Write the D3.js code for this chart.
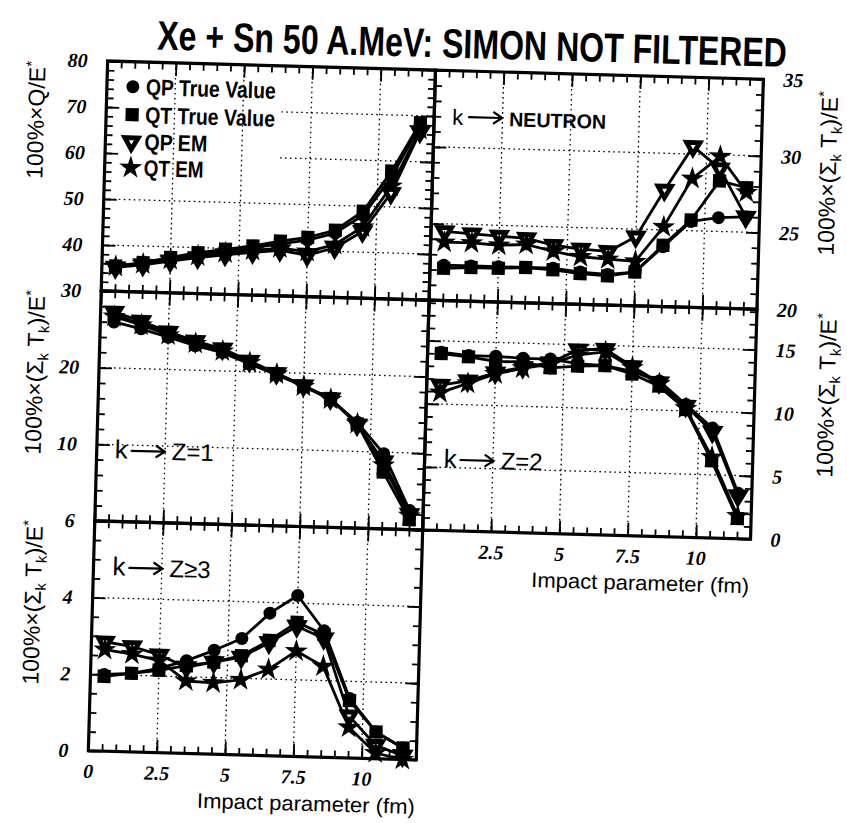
<!DOCTYPE html>
<html>
<head>
<meta charset="utf-8">
<script src="https://cdn.jsdelivr.net/npm/d3@7"></script>
<style>
  html, body { margin: 0; padding: 0; background: #fff; }
  svg { display: block; }
</style>
</head>
<body>
<svg id="fig" width="847" height="823"></svg>
<script>
// ---- data ---------------------------------------------------------------
// impact parameter bins (fm)
const impactB = [0.5, 1.5, 2.5, 3.5, 4.5, 5.5, 6.5, 7.5, 8.5, 9.5, 10.5, 11.5];
const seriesNames = ["QP True Value", "QT True Value", "QP EM", "QT EM"];

// 100% x Q / E*
const qQpTrue = [35.4, 36.2, 37.4, 38.5, 39.5, 40.3, 41.3, 42.3, 44.0, 48.0, 56.5, 68.0];
const qQtTrue = [35.5, 36.4, 37.7, 38.9, 39.8, 40.7, 41.9, 42.9, 44.6, 48.9, 57.8, 68.5];
const qQpEm   = [35.2, 35.9, 36.9, 37.8, 38.6, 39.3, 39.9, 39.0, 40.8, 44.5, 53.0, 66.5];
const qQtEm   = [35.4, 36.1, 37.2, 38.2, 39.0, 39.7, 40.4, 39.8, 41.5, 45.5, 54.5, 67.0];

// k -> neutron
const nQpTrue = [22.3, 22.3, 22.3, 22.3, 22.3, 22.1, 22.0, 22.2, 23.9, 25.6, 25.9, 26.0];
const nQtTrue = [22.1, 22.2, 22.2, 22.3, 22.2, 22.0, 21.9, 22.2, 24.0, 25.7, 28.3, 27.9];
const nQpEm   = [24.5, 24.4, 24.3, 24.2, 23.8, 23.6, 23.5, 24.5, 27.6, 30.5, 29.1, 26.0];
const nQtEm   = [23.8, 23.8, 23.7, 23.8, 23.4, 23.1, 23.0, 22.9, 25.2, 28.4, 29.9, 27.6];

// k -> Z=1
const z1QpTrue = [26.0, 25.2, 24.2, 23.2, 22.4, 21.0, 19.7, 18.3, 16.7, 13.8, 9.8, 2.5];
const z1QtTrue = [27.0, 25.8, 24.8, 23.6, 22.8, 21.3, 19.8, 18.3, 16.8, 13.6, 7.4, 1.3];
const z1QpEm   = [27.3, 26.2, 24.9, 23.8, 22.9, 21.4, 19.9, 18.4, 16.8, 13.5, 8.8, 2.0];
const z1QtEm   = [26.7, 25.7, 24.5, 23.5, 22.6, 21.2, 19.8, 18.3, 16.7, 13.6, 8.3, 1.8];

// k -> Z=2
const z2QpTrue = [14.1, 13.9, 13.9, 13.8, 13.8, 13.5, 13.4, 13.0, 12.3, 10.5, 8.7, 3.6];
const z2QtTrue = [14.0, 13.8, 13.5, 13.5, 13.1, 13.3, 13.4, 12.8, 11.9, 10.1, 6.1, 1.6];
const z2QpEm   = [11.5, 11.9, 12.6, 13.1, 13.5, 14.6, 14.7, 13.4, 12.2, 10.4, 8.4, 3.4];
const z2QtEm   = [10.9, 11.7, 12.5, 13.0, 13.4, 14.2, 14.5, 13.3, 12.1, 10.2, 6.4, 1.8];

// k -> Z>=3
const z3QpTrue = [2.0, 2.05, 2.2, 2.42, 2.71, 3.04, 3.72, 4.2, 3.3, 1.55, 0.7, 0.3];
const z3QtTrue = [1.95, 2.05, 2.15, 2.29, 2.4, 2.59, 3.01, 3.5, 3.2, 1.5, 0.7, 0.3];
const z3QpEm   = [2.85, 2.75, 2.55, 2.25, 2.4, 2.55, 2.95, 3.4, 3.1, 1.1, 0.35, 0.1];
const z3QtEm   = [2.65, 2.55, 2.4, 1.89, 1.86, 1.96, 2.25, 2.75, 2.37, 0.8, 0.15, 0.0];

// tick labels
const xTickLabels = [0, 2.5, 5, 7.5, 10];
const yLabelsQ  = [30, 40, 50, 60, 70, 80];
const yLabelsN  = [20, 25, 30, 35];
const yLabelsZ1 = [10, 20];
const yLabelsZ2 = [0, 5, 10, 15];
const yLabelsZ3 = [0, 2, 4, 6];

// ---- layout -------------------------------------------------------------
const colX = [98, 426];
const rowY = [70, 300, 530];
const PW = 328, PH = 230;

const SANS = "'Liberation Sans', Arial, Helvetica, sans-serif";
const SERIF = "'Liberation Serif', 'Times New Roman', serif";

const svg = d3.select("#fig");
svg.append("rect").attr("width", 847).attr("height", 823).attr("fill", "#fff");
const root = svg.append("g").attr("transform", "rotate(1.6,425,410)");

// condensed text: squeeze horizontally so that the text spans `width` pixels
function condensedText(parent, x, y, width, anchor) {
  const g = parent.append("g");
  const t = g.append("text").attr("x", 0).attr("y", 0);
  return {
    text: t,
    fit() {
      const natural = t.node().getComputedTextLength();
      const s = Math.min(1.2, width / natural);
      const dx = anchor === "end" ? -width : 0;
      g.attr("transform", `translate(${x + dx},${y}) scale(${s},1)`);
    }
  };
}

// title
{
  const c = condensedText(root, 147, 57, 630);
  c.text.attr("font-family", SANS).attr("font-weight", "bold").attr("font-size", 41)
    .text("Xe + Sn 50 A.MeV: SIMON NOT FILTERED");
  c.fit();
}

// marker shapes per series
const markerKinds = ["circle", "square", "triangle", "star"];
function drawMarker(sel, kind) {
  if (kind === "circle") {
    sel.append("circle").attr("r", 6.5).attr("fill", "#000");
  } else if (kind === "square") {
    sel.append("rect").attr("x", -6.6).attr("y", -6.6).attr("width", 13.2).attr("height", 13.2).attr("fill", "#000");
  } else if (kind === "triangle") {
    sel.append("path").attr("d", d3.symbol(d3.symbolTriangle, 78)())
      .attr("transform", "rotate(180)")
      .attr("fill", "#fff").attr("stroke", "#000").attr("stroke-width", 4.8).attr("stroke-linejoin", "miter");
  } else {
    sel.append("path").attr("d", d3.symbol(d3.symbolStar, 165)()).attr("fill", "#000");
  }
}

const xMinor = d3.range(0, 12.01, 0.5);
const xMajor = [0, 2.5, 5, 7.5, 10];
const xGrid = [2.5, 5, 7.5, 10];

const panels = [
  { col: 0, row: 0, domain: [30, 80], major: d3.range(30, 80.1, 10), minor: d3.range(30, 80.1, 2),
    grid: [40, 50, 60, 70], labels: yLabelsQ, side: "left", xLabels: null,
    values: [qQpTrue, qQtTrue, qQpEm, qQtEm], legend: true },
  { col: 1, row: 0, domain: [20, 35], major: d3.range(20, 35.1, 5), minor: d3.range(20, 35.1, 1),
    grid: [25, 30], labels: yLabelsN, side: "right", xLabels: null,
    values: [nQpTrue, nQtTrue, nQpEm, nQtEm] },
  { col: 0, row: 1, domain: [0, 30], major: d3.range(0, 30.1, 10), minor: d3.range(0, 30.1, 2),
    grid: [10, 20], labels: yLabelsZ1, side: "left", xLabels: null,
    values: [z1QpTrue, z1QtTrue, z1QpEm, z1QtEm] },
  { col: 1, row: 1, domain: [0, 18.2], major: d3.range(0, 18.1, 5), minor: d3.range(0, 18.1, 1),
    grid: [5, 10, 15], labels: yLabelsZ2, side: "right", xLabels: xTickLabels.slice(1),
    values: [z2QpTrue, z2QtTrue, z2QpEm, z2QtEm] },
  { col: 0, row: 2, domain: [0, 6], major: d3.range(0, 6.01, 2), minor: d3.range(0, 6.01, 0.5),
    grid: [2, 4], labels: yLabelsZ3, side: "left", xLabels: xTickLabels,
    values: [z3QpTrue, z3QtTrue, z3QpEm, z3QtEm] }
];

function inwardTicks(g, axisFn, scale, values, len, tx, ty) {
  const a = g.append("g").attr("transform", `translate(${tx},${ty})`)
    .call(axisFn(scale).tickValues(values).tickSize(-len).tickFormat(""));
  a.select(".domain").remove();
  a.selectAll("line").attr("stroke", "#000").attr("stroke-width", 1.8);
}

panels.forEach(p => {
  const x0 = colX[p.col], y0 = rowY[p.row];
  const xs = d3.scaleLinear().domain([0, 12]).range([x0, x0 + PW]);
  const ys = d3.scaleLinear().domain(p.domain).range([y0 + PH, y0]);
  const g = root.append("g");

  // horizontal grid
  g.selectAll(null).data(p.grid).join("line")
    .attr("x1", x0).attr("x2", x0 + PW)
    .attr("y1", d => ys(d)).attr("y2", d => ys(d))
    .attr("stroke", "#000").attr("stroke-width", 1.3).attr("stroke-dasharray", "1.6,3.4");

  if (p.legend) {
    g.append("rect").attr("x", x0 + 3).attr("y", y0 + 3).attr("width", 172).attr("height", 112).attr("fill", "#fff");
  }

  // vertical grid
  g.selectAll(null).data(xGrid).join("line")
    .attr("x1", d => xs(d)).attr("x2", d => xs(d))
    .attr("y1", y0).attr("y2", y0 + PH)
    .attr("stroke", "#000").attr("stroke-width", 1.3).attr("stroke-dasharray", "1.6,3.4");

  // ticks on all four sides, pointing inward
  inwardTicks(g, d3.axisBottom, xs, xMinor, 7, 0, y0 + PH);
  inwardTicks(g, d3.axisBottom, xs, xMajor, 13, 0, y0 + PH);
  inwardTicks(g, d3.axisTop, xs, xMinor, 7, 0, y0);
  inwardTicks(g, d3.axisTop, xs, xMajor, 13, 0, y0);
  inwardTicks(g, d3.axisLeft, ys, p.minor, 7, x0, 0);
  inwardTicks(g, d3.axisLeft, ys, p.major, 13, x0, 0);
  inwardTicks(g, d3.axisRight, ys, p.minor, 7, x0 + PW, 0);
  inwardTicks(g, d3.axisRight, ys, p.major, 13, x0 + PW, 0);

  // frame
  g.append("rect").attr("x", x0).attr("y", y0).attr("width", PW).attr("height", PH)
    .attr("fill", "none").attr("stroke", "#000").attr("stroke-width", 3.2);

  // y tick labels
  const yAx = (p.side === "left" ? d3.axisLeft(ys) : d3.axisRight(ys))
    .tickValues(p.labels).tickSize(0).tickPadding(20).tickFormat(d => d);
  const ya = g.append("g").attr("transform", `translate(${p.side === "left" ? x0 : x0 + PW},0)`).call(yAx);
  ya.select(".domain").remove();
  ya.selectAll("text").attr("font-family", SERIF).attr("font-weight", "bold")
    .attr("font-style", "italic").attr("font-size", 20).attr("fill", "#000");

  // x tick labels
  if (p.xLabels) {
    const xa = g.append("g").attr("transform", `translate(0,${y0 + PH})`)
      .call(d3.axisBottom(xs).tickValues(p.xLabels).tickSize(0).tickPadding(13).tickFormat(d => d));
    xa.select(".domain").remove();
    xa.selectAll("text").attr("font-family", SERIF).attr("font-weight", "bold")
      .attr("font-style", "italic").attr("font-size", 20).attr("fill", "#000");
    const c = condensedText(g, x0 + PW, y0 + PH + 54, 218, "end");
    c.text.attr("font-family", SANS).attr("font-size", 21).text("Impact parameter (fm)");
    c.fit();
  }

  // series: lines first, then markers
  const line = d3.line().x(d => xs(d[0])).y(d => ys(d[1]));
  const order = [2, 3, 0, 1];
  order.forEach(i => {
    const pts = impactB.map((b, j) => [b, p.values[i][j]]);
    g.append("path").attr("d", line(pts)).attr("fill", "none")
      .attr("stroke", "#000").attr("stroke-width", 2.8).attr("stroke-linejoin", "round");
  });
  order.forEach(i => {
    const pts = impactB.map((b, j) => [b, p.values[i][j]]);
    g.selectAll(null).data(pts).join("g")
      .attr("transform", d => `translate(${xs(d[0])},${ys(d[1])})`)
      .each(function () { drawMarker(d3.select(this), markerKinds[i]); });
  });

  // legend
  if (p.legend) {
    const rows = [95, 123, 150, 176];
    const widths = [130, 130, 63, 60];
    seriesNames.forEach((name, i) => {
      const lg = root.append("g").attr("transform", `translate(${x0 + 26},${rows[i]})`);
      drawMarker(lg, markerKinds[i]);
      const c = condensedText(lg, 13, 8, widths[i]);
      c.text.attr("font-family", SANS).attr("font-weight", "bold").attr("font-size", 23).text(name);
      c.fit();
    });
  }
});

// ---- y-axis titles --------------------------------------------------------
function sumTitle(x, yTop) {
  const t = root.append("text")
    .attr("transform", `translate(${x},${yTop}) rotate(-90)`)
    .attr("text-anchor", "end").attr("font-family", SANS).attr("font-size", 23);
  t.append("tspan").text("100%×(Σ");
  t.append("tspan").attr("dy", 5).attr("font-size", 15).text("k");
  t.append("tspan").attr("dy", -5).text(" T");
  t.append("tspan").attr("dy", 5).attr("font-size", 15).text("k");
  t.append("tspan").attr("dy", -5).text(")/E");
  t.append("tspan").attr("dy", -9).attr("font-size", 15).text("*");
  return t;
}
{
  const t = root.append("text")
    .attr("transform", `translate(36,72) rotate(-90)`)
    .attr("text-anchor", "end").attr("font-family", SANS).attr("font-size", 23);
  t.append("tspan").text("100%×Q/E");
  t.append("tspan").attr("dy", -9).attr("font-size", 15).text("*");
}
sumTitle(42, 301);
sumTitle(46, 531);
sumTitle(829, 80);
sumTitle(834, 302);

// ---- panel annotations ----------------------------------------------------
function arrow(x1, x2, y) {
  root.append("line").attr("x1", x1).attr("x2", x2 - 1).attr("y1", y).attr("y2", y)
    .attr("stroke", "#000").attr("stroke-width", 2.2);
  root.append("polyline").attr("points", `${x2 - 9},${y - 6} ${x2},${y} ${x2 - 9},${y + 6}`)
    .attr("fill", "none").attr("stroke", "#000").attr("stroke-width", 2.2);
}
function kLabel(x, y, text, fsK, fsT, bold, width) {
  root.append("text").attr("x", x).attr("y", y).attr("font-family", SANS).attr("font-size", fsK).text("k");
  arrow(x + 16, x + 50, y - 8);
  if (width) {
    const c = condensedText(root, x + 57, y, width);
    c.text.attr("font-family", SANS).attr("font-size", fsT).attr("font-weight", bold ? "bold" : "normal").text(text);
    c.fit();
  } else {
    root.append("text").attr("x", x + 57).attr("y", y).attr("font-family", SANS)
      .attr("font-size", fsT).attr("font-weight", bold ? "bold" : "normal").text(text);
  }
}
kLabel(444, 124, "NEUTRON", 22, 20, true, 97);
kLabel(116, 467, "Z=1", 26, 24, false, null);
kLabel(445, 467, "Z=2", 26, 24, false, null);
kLabel(117, 584, "Z≥3", 26, 24, false, null);
</script>
</body>
</html>
